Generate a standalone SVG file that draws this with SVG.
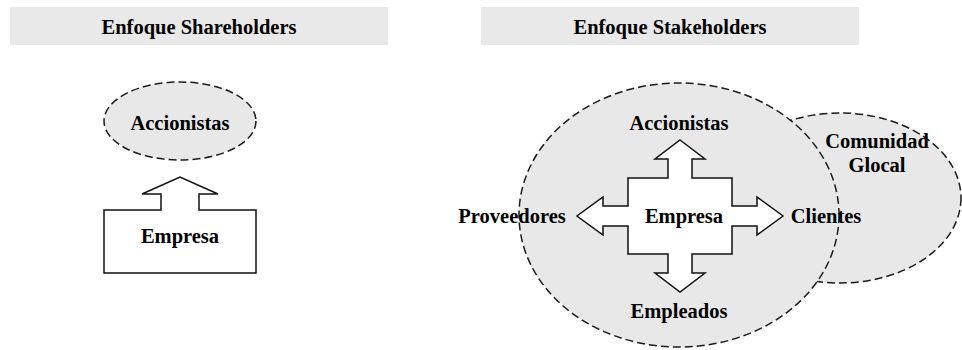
<svg xmlns="http://www.w3.org/2000/svg" width="962" height="350" viewBox="0 0 962 350">
<style>
text{font-family:"Liberation Serif","Times New Roman",serif;font-weight:bold;font-size:20.5px;fill:#000;text-anchor:middle}
.hdr{fill:#e9e9e9}
.dash{fill:#e8e8e8;stroke:#1a1a1a;stroke-width:1.5;stroke-dasharray:8 4}
.arrow{fill:#fff;stroke:#111;stroke-width:1.5;stroke-linejoin:miter}
</style>
<rect width="962" height="350" fill="#fff"/>
<g id="header-shareholders">
<rect class="hdr" x="10" y="7" width="378" height="38"/>
<text x="199" y="34">Enfoque Shareholders</text>
</g>
<g id="header-stakeholders">
<rect class="hdr" x="481" y="7" width="378" height="38"/>
<text x="670" y="34">Enfoque Stakeholders</text>
</g>
<g id="sh-accionistas">
<ellipse class="dash" cx="180" cy="121" rx="76" ry="39"/>
<text x="180" y="130">Accionistas</text>
</g>
<g id="sh-empresa">
<path class="arrow" d="M104,210 L161,210 L161,194 L142,194 L180,177 L218,194 L199,194 L199,210 L256,210 L256,273 L104,273 Z"/>
<text x="180" y="243">Empresa</text>
</g>
<g id="comunidad">
<ellipse class="dash" cx="840" cy="198" rx="121" ry="85"/>
<text x="877" y="148">Comunidad</text>
<text x="877" y="172">Glocal</text>
</g>
<g id="stakeholders-circle">
<ellipse class="dash" cx="679" cy="215" rx="160" ry="132"/>
</g>
<g id="connectors">
<path class="arrow" d="M680,140 L705,159 L692,159 L692,178 L732,178 L732,206 L757,206 L757,197 L783,216 L757,235 L757,226 L732,226 L732,254 L692,254 L692,273 L705,273 L680,292 L655,273 L668,273 L668,254 L628,254 L628,226 L603,226 L603,235 L577,216 L603,197 L603,206 L628,206 L628,178 L668,178 L668,159 L655,159 Z"/>
</g>
<g id="st-empresa"><text x="684" y="223">Empresa</text></g>
<g id="st-accionistas"><text x="679" y="130">Accionistas</text></g>
<g id="st-proveedores"><text x="512" y="223">Proveedores</text></g>
<g id="st-clientes"><text x="826" y="223">Clientes</text></g>
<g id="st-empleados"><text x="679" y="318">Empleados</text></g>
</svg>
